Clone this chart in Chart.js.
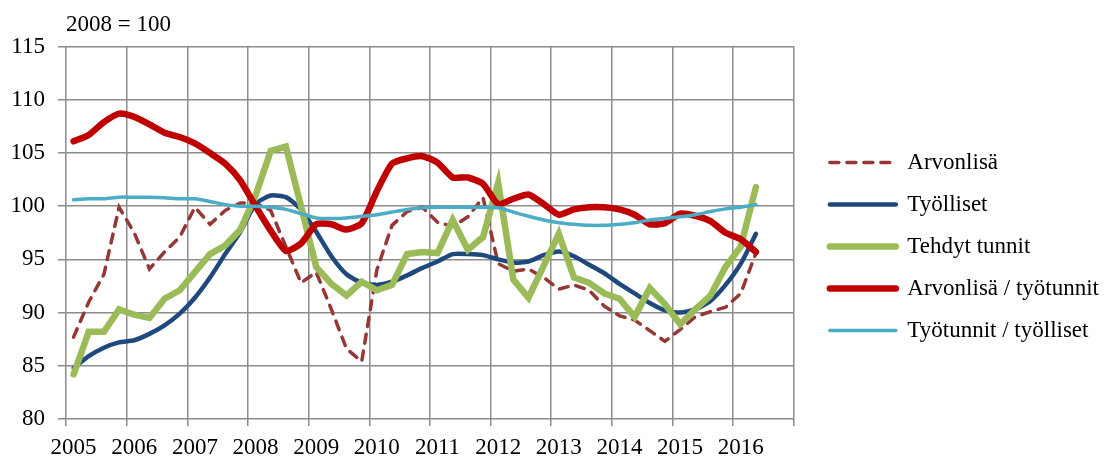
<!DOCTYPE html>
<html>
<head>
<meta charset="utf-8">
<script src="https://cdn.jsdelivr.net/npm/chart.js@4.4.1/dist/chart.umd.min.js"></script>
<style>
  html, body { margin: 0; padding: 0; background: #fff; }
  #wrap { width: 1109px; height: 457px; }
</style>
</head>
<body>
<div id="wrap"><canvas id="chart"></canvas></div>
<script>
// quarterly index, 2008 = 100
const years = ['2005', '2006', '2007', '2008', '2009', '2010', '2011', '2012', '2013', '2014', '2015', '2016'];
const quarterNames = ['I', 'II', 'III', 'IV'];
const quarters = years.flatMap(y => quarterNames.map(q => y + ' ' + q));

const arvonlisa = [
    87.7, 91.0, 93.6, 99.9, 97.5, 94.1, 95.7, 97.1, 99.9, 98.3,
    99.6, 100.3, 100.3, 99.6, 96.2, 92.8, 93.8, 90.3, 86.6, 85.4,
    94.0, 98.2, 99.5, 99.9, 98.5, 98.1, 99.0, 100.8, 94.6, 93.9,
    94.1, 93.3, 92.2, 92.6, 92.1, 90.6, 89.7, 89.3, 88.3, 87.3,
    88.4, 89.6, 90.1, 90.5, 91.8, 95.6,
];
const tyolliset = [
    84.8, 85.9, 86.7, 87.2, 87.4, 88.0, 88.8, 89.9, 91.4, 93.3,
    95.5, 97.6, 100.2, 101.0, 100.85, 99.7, 97.6, 95.3, 93.6, 92.8,
    92.6, 92.9, 93.5, 94.2, 94.8, 95.5, 95.5, 95.4, 95.0, 94.7,
    94.8, 95.4, 95.75, 95.3, 94.5, 93.7, 92.7, 91.8, 90.9, 90.2,
    90.0, 90.3, 91.1, 92.6, 94.6, 97.4,
];
const tehdytTunnit = [
    84.2, 88.2, 88.2, 90.3, 89.8, 89.5, 91.3, 92.1, 93.8, 95.5,
    96.3, 97.8, 101.0, 105.2, 105.6, 100.0, 94.3, 92.7, 91.6, 92.9,
    92.1, 92.6, 95.5, 95.7, 95.6, 98.7, 95.9, 97.1, 102.2, 93.1,
    91.4, 94.4, 97.4, 93.3, 92.8, 91.8, 91.3, 89.6, 92.3, 90.8,
    88.9, 90.3, 91.6, 94.3, 96.2, 101.8,
];
const arvonlisaPerTunti = [
    106.1, 106.7, 107.9, 108.7, 108.4, 107.7, 106.9, 106.5, 105.9, 105.0,
    104.0, 102.4, 100.0, 97.7, 95.8, 96.5, 98.3, 98.3, 97.8, 98.4,
    101.4, 104.0, 104.5, 104.7, 104.1, 102.7, 102.7, 102.1, 100.2, 100.7,
    101.1, 100.2, 99.2, 99.7, 99.9, 99.9, 99.7, 99.2, 98.3, 98.4,
    99.3, 99.1, 98.6, 97.5, 96.9, 95.7,
];
const tunnitPerTyollinen = [
    100.6, 100.7, 100.7, 100.85, 100.85, 100.85, 100.8, 100.7, 100.7, 100.45,
    100.15, 100.0, 100.0, 99.9, 99.7, 99.3, 98.9, 98.85, 98.9, 99.05,
    99.2, 99.45, 99.7, 99.85, 99.9, 99.9, 99.9, 99.9, 99.85, 99.45,
    99.05, 98.7, 98.45, 98.3, 98.2, 98.2, 98.3, 98.45, 98.7, 98.85,
    99.0, 99.2, 99.5, 99.75, 99.9, 100.15,
];

const gridGrey = '#8c8c8c';

Chart.defaults.font.family = "'Liberation Serif', 'Times New Roman', serif";
Chart.defaults.font.size = 23;
Chart.defaults.color = '#000';

new Chart(document.getElementById('chart'), {
    type: 'line',
    data: {
        labels: quarters,
        datasets: [
            {
                label: 'Arvonlisä',
                data: arvonlisa,
                borderColor: '#953735',
                borderWidth: 3.5,
                borderDash: [9, 8],
                borderCapStyle: 'round',
                tension: 0,
                order: 5,
            },
            {
                label: 'Työlliset',
                data: tyolliset,
                borderColor: '#1F497D',
                borderWidth: 4.5,
                borderCapStyle: 'round',
                tension: 0.2,
                order: 4,
            },
            {
                label: 'Tehdyt tunnit',
                data: tehdytTunnit,
                borderColor: '#9BBB59',
                borderWidth: 6.5,
                borderCapStyle: 'round',
                tension: 0,
                order: 3,
            },
            {
                label: 'Arvonlisä / työtunnit',
                data: arvonlisaPerTunti,
                borderColor: '#C00000',
                borderWidth: 6.5,
                borderCapStyle: 'round',
                tension: 0.2,
                order: 2,
            },
            {
                label: 'Työtunnit / työlliset',
                data: tunnitPerTyollinen,
                borderColor: '#4BACC6',
                borderWidth: 3.5,
                borderCapStyle: 'round',
                tension: 0.2,
                order: 1,
            },
        ],
    },
    options: {
        animation: false,
        responsive: true,
        maintainAspectRatio: false,
        devicePixelRatio: 1,
        layout: {
            padding: { right: 0 },
        },
        elements: {
            point: { radius: 0, hoverRadius: 0 },
        },
        plugins: {
            title: {
                display: true,
                text: '2008 = 100',
                align: 'start',
                fullSize: false,
                color: '#000',
                font: { size: 23, weight: 'normal' },
                padding: { top: 11, bottom: 8 },
            },
            legend: {
                position: 'right',
                align: 'center',
                maxWidth: 320,
                title: {
                    display: true,
                    text: '',
                    font: { size: 10 },
                    padding: { top: 24, bottom: 0 },
                },
                labels: {
                    usePointStyle: true,
                    pointStyle: 'line',
                    pointStyleWidth: 66,
                    padding: 19,
                    color: '#000',
                    font: { size: 23 },
                    generateLabels: chart => chart.data.datasets.map((ds, i) => ({
                        text: ds.label,
                        strokeStyle: ds.borderColor,
                        fillStyle: ds.borderColor,
                        lineWidth: ds.borderWidth,
                        lineDash: ds.borderDash || [],
                        lineCap: 'round',
                        pointStyle: 'line',
                        fontColor: '#000',
                        hidden: false,
                        datasetIndex: i,
                    })),
                },
            },
            tooltip: { enabled: false },
        },
        scales: {
            x: {
                offset: true,
                grid: {
                    offset: true,
                    color: ctx => (ctx.index === undefined || ctx.index % 4 === 0) ? gridGrey : 'rgba(0,0,0,0)',
                    lineWidth: 1.5,
                    tickLength: 7,
                },
                border: { display: false },
                ticks: {
                    autoSkip: false,
                    maxRotation: 0,
                    padding: 8,
                    callback: (v, i) => (i % 4 === 0 ? years[i / 4] : ''),
                },
                afterFit: scale => { scale.height = 38; },
            },
            y: {
                min: 80,
                max: 115,
                ticks: { stepSize: 5, padding: 13 },
                grid: { color: gridGrey, lineWidth: 1.5, tickLength: 8 },
                border: { display: false },
                afterFit: scale => { scale.width = 66; },
            },
            gap: {
                position: 'right',
                grid: { display: false },
                border: { display: false },
                ticks: { display: false },
                afterFit: scale => { scale.width = 17; },
            },
        },
    },
});
</script>
</body>
</html>
